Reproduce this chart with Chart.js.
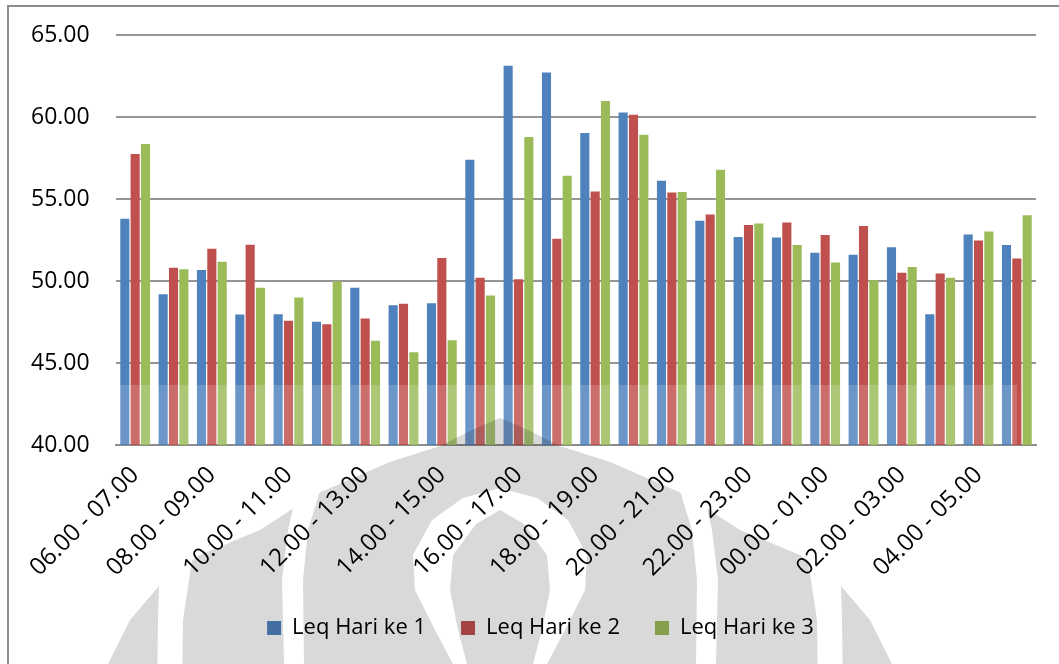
<!DOCTYPE html>
<html>
<head>
<meta charset="utf-8">
<script src="https://cdn.jsdelivr.net/npm/chart.js@4/dist/chart.umd.min.js"></script>
<style>
  html, body { margin: 0; padding: 0; background: #ffffff; }
  #wrap { width: 1059px; height: 664px; position: relative; overflow: hidden; }
  canvas { display: block; }
</style>
</head>
<body>
<div id="wrap"><canvas id="chart" width="1059" height="664"></canvas></div>
<script>
// Hourly periods (one bar group per hour)
const categories = [
  "06.00 - 07.00", "07.00 - 08.00", "08.00 - 09.00", "09.00 - 10.00",
  "10.00 - 11.00", "11.00 - 12.00", "12.00 - 13.00", "13.00 - 14.00",
  "14.00 - 15.00", "15.00 - 16.00", "16.00 - 17.00", "17.00 - 18.00",
  "18.00 - 19.00", "19.00 - 20.00", "20.00 - 21.00", "21.00 - 22.00",
  "22.00 - 23.00", "23.00 - 00.00", "00.00 - 01.00", "01.00 - 02.00",
  "02.00 - 03.00", "03.00 - 04.00", "04.00 - 05.00", "05.00 - 06.00"
];

// Leq (dB) per hour for each measurement day
const leqDay1 = [53.79, 49.19, 50.67, 47.95, 47.97, 47.52, 49.59, 48.52, 48.64, 57.40, 63.13, 62.71,
                 59.02, 60.28, 56.12, 53.67, 52.69, 52.65, 51.72, 51.60, 52.06, 47.97, 52.83, 52.19];
const leqDay2 = [57.74, 50.81, 51.96, 52.21, 47.58, 47.36, 47.71, 48.62, 51.40, 50.20, 50.10, 52.57,
                 55.45, 60.13, 55.39, 54.05, 53.42, 53.56, 52.81, 53.36, 50.50, 50.46, 52.47, 51.37];
const leqDay3 = [58.35, 50.71, 51.17, 49.59, 49.00, 49.98, 46.35, 45.66, 46.39, 49.12, 58.78, 56.42,
                 60.97, 58.92, 55.43, 56.79, 53.50, 52.19, 51.13, 50.04, 50.85, 50.20, 53.02, 54.01];

const seriesNames = ["Leq Hari ke 1", "Leq Hari ke 2", "Leq Hari ke 3"];
const seriesColors = ["#4F81BD", "#C0504D", "#9BBB59"];

const yMin = 40, yMax = 65, yStep = 5;

const FONT = "'Open Sans', Lato, 'Liberation Sans', sans-serif";

// Outer frame of the chart object
const framePlugin = {
  id: 'frame',
  beforeDraw(chart) {
    const ctx = chart.ctx;
    ctx.save();
    ctx.fillStyle = '#ffffff';
    ctx.fillRect(0, 0, chart.width, chart.height);
    ctx.strokeStyle = '#8c8c8c';
    ctx.lineWidth = 2;
    ctx.strokeRect(8, 6, chart.width + 40, chart.height + 40);
    ctx.restore();
  }
};

// Legend sits slightly right of the page centre
const legendShiftPlugin = {
  id: 'legendShift',
  afterLayout(chart) {
    const lg = chart.legend;
    if (lg) { lg.left += 7; lg.right += 7; }
  }
};

// Background emblem printed over the lower part of the page
function emblemLayer(w, h) {
  const off = document.createElement('canvas');
  off.width = w; off.height = h;
  const g = off.getContext('2d');
  const cx = 500;
  const poly = (pts, mirror) => {
    g.beginPath();
    pts.forEach((p, i) => {
      const x = mirror ? 2 * cx - p[0] : p[0];
      if (i === 0) g.moveTo(x, p[1]); else g.lineTo(x, p[1]);
    });
    g.closePath();
    g.fill();
  };
  // outer dome
  const domeLeft = [[500, 418], [488, 423], [472, 430], [440, 446], [390, 462], [314, 495],
                    [260, 530], [200, 555], [164, 580], [130, 620], [108, 664], [100, 700]];
  const dome = domeLeft.concat(domeLeft.slice().reverse().map(p => [2 * cx - p[0], p[1]]));
  g.fillStyle = '#d9d9d9';
  poly(dome, false);

  g.globalCompositeOperation = 'destination-out';
  g.fillStyle = '#000';
  const stripeA = [[160, 560], [158, 620], [157, 700], [182, 700], [183, 620], [192, 560]];
  const stripeB = [[300, 478], [288, 530], [282, 580], [284, 664], [286, 700],
                   [306, 700], [304, 664], [303, 580], [308, 530], [324, 478]];
  const lens = [[500, 488], [463, 498], [432, 520], [413, 555], [415, 590], [435, 630], [453, 664], [462, 700],
                [475, 700], [467, 664], [458, 630], [450, 590], [453, 555], [476, 524], [500, 510]];
  [stripeA, stripeB, lens].forEach(s => { poly(s, false); poly(s, true); });
  return off;
}

const emblemPlugin = {
  id: 'emblem',
  afterDraw(chart) {
    const ctx = chart.ctx;
    const area = chart.chartArea;
    ctx.save();
    // pale band over the foot of the bars
    ctx.fillStyle = 'rgba(255,255,255,0.17)';
    ctx.fillRect(area.left, 385, 1017 - area.left, area.bottom - 385 - 1);
    ctx.globalCompositeOperation = 'multiply';
    ctx.drawImage(emblemLayer(chart.width, chart.height), 0, 0);
    ctx.restore();
  }
};

new Chart(document.getElementById('chart'), {
  type: 'bar',
  data: {
    labels: categories,
    datasets: [leqDay1, leqDay2, leqDay3].map((d, i) => ({
      label: seriesNames[i],
      data: d,
      backgroundColor: seriesColors[i],
      borderWidth: 0,
      categoryPercentage: 0.81,
      barPercentage: 0.88
    }))
  },
  options: {
    responsive: false,
    animation: false,
    devicePixelRatio: 1,
    layout: { padding: { left: 31, right: 23, top: 35, bottom: 15 } },
    plugins: {
      tooltip: { enabled: false },
      legend: {
        position: 'bottom',
        labels: {
          font: { family: FONT, size: 22 },
          color: '#000000',
          boxWidth: 14,
          boxHeight: 14,
          padding: 35
        }
      }
    },
    scales: {
      x: {
        grid: { display: false, drawTicks: false },
        border: { display: true, color: '#8c8c8c', width: 2 },
        ticks: {
          autoSkip: false,
          maxRotation: 45,
          minRotation: 45,
          padding: 16,
          color: '#000000',
          font: { family: FONT, size: 24 },
          callback: (v, i) => (i % 2 === 0 ? categories[i] : '')
        },
        afterFit: (s) => { s.height = 137; }
      },
      y: {
        min: yMin,
        max: yMax,
        grid: { color: '#959595', lineWidth: 2, drawTicks: false },
        border: { display: false },
        ticks: {
          stepSize: yStep,
          padding: 0,
          crossAlign: 'far',
          color: '#000000',
          font: { family: FONT, size: 23 },
          callback: (v) => Number(v).toFixed(2)
        },
        afterFit: (s) => { s.width = 85; }
      }
    }
  },
  plugins: [framePlugin, legendShiftPlugin, emblemPlugin]
});
</script>
</body>
</html>
